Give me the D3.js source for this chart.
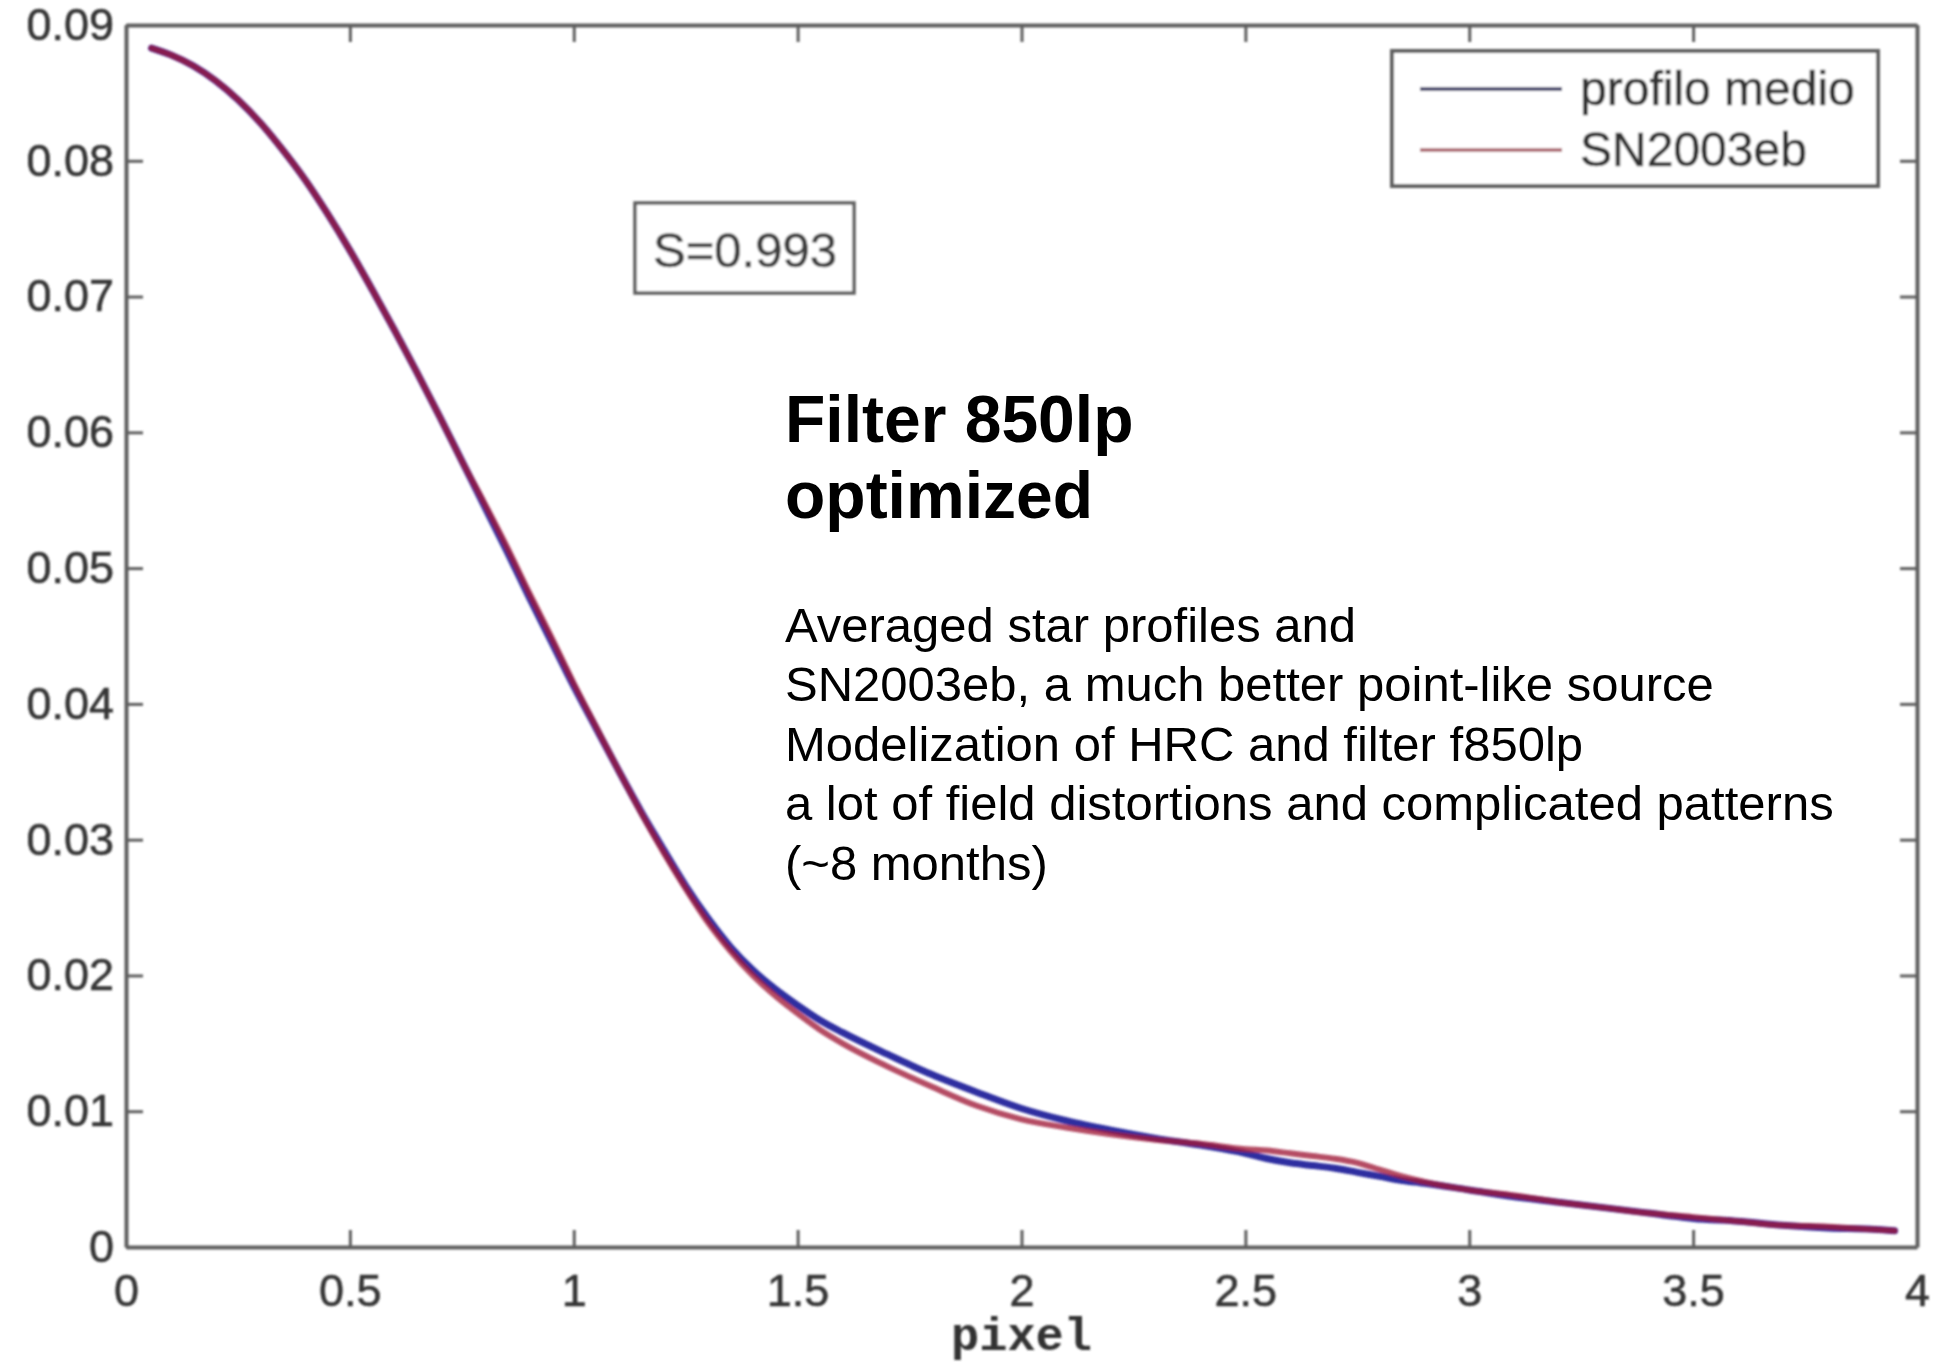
<!DOCTYPE html>
<html>
<head>
<meta charset="utf-8">
<script src="https://cdn.jsdelivr.net/npm/d3@7"></script>
<style>
  html, body { margin: 0; padding: 0; background: #fff; }
  svg { display: block; }
</style>
</head>
<body>
<svg id="chart" width="1942" height="1369"></svg>
<script>
// Radial profile samples (pixel distance from centre)
const pixelPos = [0.057, 0.1, 0.15, 0.2, 0.25, 0.3, 0.35, 0.4, 0.45, 0.5,
  0.55, 0.6, 0.65, 0.7, 0.75, 0.8, 0.85, 0.9, 0.95, 1.0,
  1.05, 1.1, 1.15, 1.2, 1.25, 1.3, 1.35, 1.4, 1.45, 1.5,
  1.55, 1.6, 1.7, 1.8, 1.9, 2.0, 2.1, 2.2, 2.3, 2.4, 2.5,
  2.55, 2.6, 2.65, 2.7, 2.75, 2.8, 2.85, 2.9, 3.0, 3.1,
  3.2, 3.3, 3.4, 3.5, 3.6, 3.7, 3.8, 3.9, 3.95];

// Averaged star profile
const profiloMedio = [0.0883, 0.0878, 0.0870, 0.0859, 0.0845, 0.0828, 0.0808, 0.0786, 0.0761, 0.0734,
  0.0705, 0.0675, 0.0644, 0.0612, 0.0579, 0.0546, 0.0513, 0.0479, 0.0446, 0.0413,
  0.0382, 0.0351, 0.0321, 0.0293, 0.0266, 0.0242, 0.0221, 0.0204, 0.0190, 0.0178,
  0.0167, 0.0158, 0.0142, 0.0127, 0.0114, 0.0102, 0.0093, 0.0086, 0.0080, 0.0075, 0.0069,
  0.0065, 0.0062, 0.0060, 0.0058, 0.0055, 0.0052, 0.0049, 0.0047, 0.0042, 0.0037,
  0.0033, 0.0029, 0.0025, 0.0021, 0.0019, 0.0016, 0.0014, 0.0013, 0.0012];

// Supernova SN2003eb profile
const sn2003eb = [0.0883, 0.0878, 0.0870, 0.0859, 0.0845, 0.0828, 0.0808, 0.0786, 0.0761, 0.0734,
  0.0705, 0.0675, 0.0644, 0.0612, 0.0579, 0.0548, 0.0516, 0.0482, 0.0449, 0.0415,
  0.0383, 0.0351, 0.0320, 0.0291, 0.0264, 0.0239, 0.0218, 0.0200, 0.0185, 0.0172,
  0.0160, 0.0150, 0.0133, 0.0118, 0.0104, 0.0094, 0.0088, 0.0083, 0.0079, 0.0076, 0.0072,
  0.0071, 0.0069, 0.0067, 0.0065, 0.0062, 0.0057, 0.0052, 0.0048, 0.0042, 0.0038,
  0.0033, 0.0029, 0.0025, 0.0022, 0.0019, 0.0016, 0.0015, 0.0013, 0.0012];

const xTicks = [0, 0.5, 1, 1.5, 2, 2.5, 3, 3.5, 4];
const xTickLabels = ["0", "0.5", "1", "1.5", "2", "2.5", "3", "3.5", "4"];
const yTicks = [0, 0.01, 0.02, 0.03, 0.04, 0.05, 0.06, 0.07, 0.08, 0.09];
const yTickLabels = ["0", "0.01", "0.02", "0.03", "0.04", "0.05", "0.06", "0.07", "0.08", "0.09"];

const seriesNames = ["profilo medio", "SN2003eb"];
const seriesColors = ["#2d2da0", "#a01838"];
const xLabel = "pixel";
const similarity = "S=0.993";

const titleLines = ["Filter 850lp", "optimized"];
const noteLines = [
  "Averaged star profiles and",
  "SN2003eb, a much better point-like source",
  "Modelization of HRC and filter f850lp",
  "a lot of field distortions and complicated patterns",
  "(~8 months)"
];

const svg = d3.select("#chart");
const plotLeft = 126, plotRight = 1917, plotTop = 25, plotBottom = 1247;

const x = d3.scaleLinear().domain([0, 4]).range([plotLeft, plotRight]);
const y = d3.scaleLinear().domain([0, 0.09]).range([plotBottom, plotTop]);

// soft rendering of the plot itself
const defs = svg.append("defs");
defs.append("filter").attr("id", "soft")
  .attr("filterUnits", "userSpaceOnUse")
  .attr("x", 0).attr("y", 0).attr("width", 1942).attr("height", 1369)
  .append("feGaussianBlur").attr("stdDeviation", 0.9);

const plot = svg.append("g").attr("filter", "url(#soft)");

const axisColor = "#5e5e5e";
const labelColor = "#353535";
const tickFont = "'Liberation Sans', Arial, Helvetica, sans-serif";

function styleAxis(g) {
  g.select(".domain").attr("stroke", axisColor).attr("stroke-width", 4);
  g.selectAll(".tick line").attr("stroke", axisColor).attr("stroke-width", 3);
  g.selectAll(".tick text")
    .attr("fill", labelColor)
    .attr("stroke", labelColor).attr("stroke-width", 0.6)
    .style("font-family", tickFont)
    .style("font-size", "45px");
}

const xFmt = d => xTickLabels[xTicks.indexOf(d)];
const yFmt = d => yTickLabels[yTicks.indexOf(d)];

plot.append("g").attr("transform", `translate(0,${plotBottom})`)
  .call(d3.axisBottom(x).tickValues(xTicks).tickFormat(xFmt)
    .tickSizeInner(-17).tickSizeOuter(0).tickPadding(27))
  .call(styleAxis);

plot.append("g").attr("transform", `translate(0,${plotTop})`)
  .call(d3.axisTop(x).tickValues(xTicks).tickFormat("")
    .tickSizeInner(-17).tickSizeOuter(0))
  .call(styleAxis);

plot.append("g").attr("transform", `translate(${plotLeft},0)`)
  .call(d3.axisLeft(y).tickValues(yTicks).tickFormat(yFmt)
    .tickSizeInner(-17).tickSizeOuter(0).tickPadding(12))
  .call(styleAxis);

plot.append("g").attr("transform", `translate(${plotRight},0)`)
  .call(d3.axisRight(y).tickValues(yTicks).tickFormat("")
    .tickSizeInner(-17).tickSizeOuter(0))
  .call(styleAxis);

// x-axis label
plot.append("text")
  .attr("x", x(2)).attr("y", 1350)
  .attr("text-anchor", "middle")
  .attr("fill", "#333")
  .style("font-family", "'Liberation Mono', 'DejaVu Sans Mono', monospace")
  .style("font-weight", "bold")
  .style("font-size", "47px")
  .text(xLabel);

// profile curves; the supernova trace is laid semi-transparently over the average
const line = vals => d3.line()
  .x((d, i) => x(pixelPos[i]))
  .y(d => y(d))
  .curve(d3.curveMonotoneX)(vals);

plot.append("path")
  .attr("d", line(profiloMedio))
  .attr("fill", "none")
  .attr("stroke", seriesColors[0])
  .attr("stroke-width", 7)
  .attr("stroke-linejoin", "round")
  .attr("stroke-linecap", "round");

plot.append("path")
  .attr("d", line(sn2003eb))
  .attr("fill", "none")
  .attr("stroke", seriesColors[1])
  .attr("stroke-width", 6)
  .attr("stroke-opacity", 0.78)
  .attr("stroke-linejoin", "round")
  .attr("stroke-linecap", "round");

// similarity box
plot.append("rect")
  .attr("x", 635).attr("y", 203).attr("width", 219).attr("height", 90)
  .attr("fill", "#fff").attr("stroke", axisColor).attr("stroke-width", 3.5);
plot.append("text")
  .attr("x", 745).attr("y", 267)
  .attr("text-anchor", "middle")
  .attr("fill", "#404040")
  .attr("stroke", "#404040").attr("stroke-width", 0.6)
  .style("font-family", tickFont)
  .style("font-size", "49px")
  .text(similarity);

// legend
const legend = plot.append("g");
legend.append("rect")
  .attr("x", 1392).attr("y", 51).attr("width", 486).attr("height", 135)
  .attr("fill", "#fff").attr("stroke", axisColor).attr("stroke-width", 4);
const legendColors = ["#33335f", "#a8606a"];
seriesNames.forEach((name, i) => {
  const ly = 89 + i * 61;
  legend.append("line")
    .attr("x1", 1420).attr("x2", 1562).attr("y1", ly).attr("y2", ly)
    .attr("stroke", legendColors[i]).attr("stroke-width", 3.5);
  legend.append("text")
    .attr("x", 1580).attr("y", ly + 16)
    .attr("fill", "#333")
    .attr("stroke", "#333").attr("stroke-width", 0.6)
    .style("font-family", tickFont)
    .style("font-size", "48px")
    .text(name);
});

// annotation block
const notes = svg.append("g").style("font-family", "'Liberation Sans', Arial, Helvetica, sans-serif");
titleLines.forEach((t, i) => {
  notes.append("text")
    .attr("x", 785).attr("y", 442 + i * 76)
    .attr("fill", "#000")
    .style("font-weight", "bold")
    .style("font-size", "66px")
    .text(t);
});
noteLines.forEach((t, i) => {
  notes.append("text")
    .attr("x", 785).attr("y", 642 + i * 59.4)
    .attr("fill", "#000")
    .style("font-size", "49px")
    .text(t);
});
</script>
</body>
</html>
